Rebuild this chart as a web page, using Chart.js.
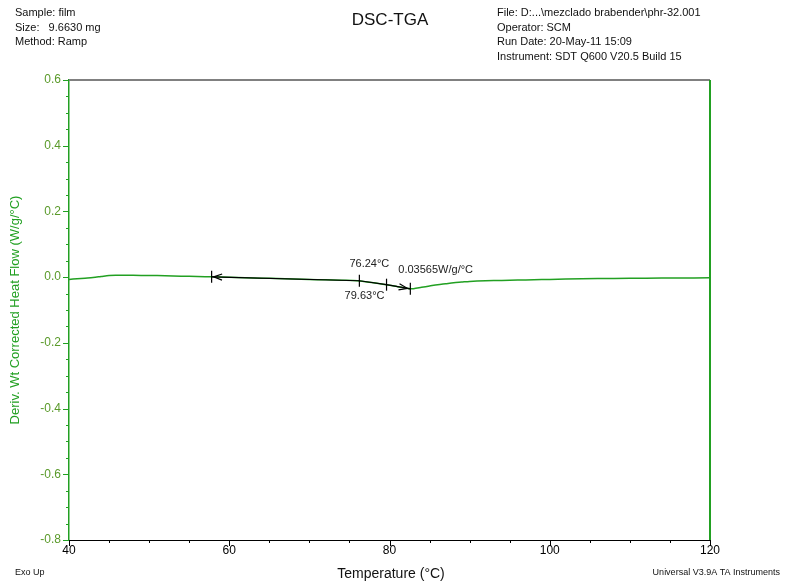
<!DOCTYPE html>
<html>
<head>
<meta charset="utf-8">
<script src="https://cdn.jsdelivr.net/npm/chart.js@4/dist/chart.umd.min.js"></script>
<style>
  html, body { margin: 0; padding: 0; background: #fff; }
  #wrap { width: 787px; height: 585px; position: relative; }
</style>
</head>
<body>
<div id="wrap"><canvas id="c" width="787" height="585"></canvas></div>
<script>
// Derivative weight-corrected heat flow vs temperature
const temperatures = [40, 41, 42, 43, 44, 45, 46, 48, 50, 52, 54, 56, 58, 60, 62, 64, 66, 68, 70, 72, 74, 76, 78, 79, 80, 81, 82, 82.6, 83, 84, 85, 86, 87, 88, 89, 90, 92, 94, 96, 98, 100, 104, 108, 112, 116, 120];
const heatFlow = [-0.007, -0.005, -0.003, -0.001, 0.002, 0.005, 0.0055, 0.0055, 0.005, 0.0045, 0.003, 0.002, 0.001, -0.0004, -0.0017, -0.003, -0.0043, -0.0056, -0.007, -0.0082, -0.0095, -0.011, -0.0172, -0.0207, -0.0245, -0.0289, -0.0331, -0.03565, -0.035, -0.031, -0.027, -0.023, -0.020, -0.017, -0.015, -0.013, -0.011, -0.010, -0.009, -0.008, -0.007, -0.005, -0.004, -0.003, -0.0025, -0.002];

// Glass transition analysis: onset, midpoint (half height), end and step height
const transitionTemps = [57.8, 76.24, 79.63, 82.6];
const transitionFlow = [0.001, -0.011, -0.023, -0.03565];
const transitionLabels = ['76.24°C', '79.63°C', '0.03565W/g/°C'];

const headerLeft = ['Sample: film', 'Size:   9.6630 mg', 'Method: Ramp'];
const headerRight = ['File: D:...\\mezclado brabender\\phr-32.001', 'Operator: SCM', 'Run Date: 20-May-11 15:09', 'Instrument: SDT Q600 V20.5 Build 15'];
const chartTitle = 'DSC-TGA';
const xTitle = 'Temperature (°C)';
const yTitle = 'Deriv. Wt Corrected Heat Flow (W/g/°C)';
const footLeft = 'Exo Up';
const footRight = 'Universal V3.9A TA Instruments';

const GREEN = '#22a022';
const FONT = '"Liberation Sans", Arial, sans-serif';

const points = temperatures.map((t, i) => ({ x: t, y: heatFlow[i] }));

const decorPlugin = {
  id: 'decor',
  afterDraw(chart) {
    const ctx = chart.ctx;
    const a = chart.chartArea;
    const xs = chart.scales.x, ys = chart.scales.y;
    ctx.save();

    // frame: top edge grey, right edge green
    ctx.lineWidth = 2;
    ctx.strokeStyle = '#808080';
    ctx.beginPath(); ctx.moveTo(a.left, a.top); ctx.lineTo(a.right, a.top); ctx.stroke();
    ctx.strokeStyle = GREEN;
    ctx.beginPath(); ctx.moveTo(a.right, a.top); ctx.lineTo(a.right, a.bottom); ctx.stroke();

    // axis ticks (major longer than minor)
    ctx.lineWidth = 1;
    ctx.strokeStyle = GREEN;
    ys.ticks.forEach(t => {
      const py = Math.round(ys.getPixelForValue(t.value)) + 0.5;
      const major = Math.abs(Math.round(t.value * 100)) % 20 === 0;
      ctx.beginPath(); ctx.moveTo(a.left - (major ? 6 : 3), py); ctx.lineTo(a.left, py); ctx.stroke();
    });
    ctx.strokeStyle = '#000';
    xs.ticks.forEach(t => {
      const px = Math.round(xs.getPixelForValue(t.value)) + 0.5;
      const major = Math.round(t.value) % 20 === 0;
      ctx.beginPath(); ctx.moveTo(px, a.bottom); ctx.lineTo(px, a.bottom + (major ? 6 : 3)); ctx.stroke();
    });

    // transition construction line
    const P = transitionTemps.map((t, i) => [xs.getPixelForValue(t), ys.getPixelForValue(transitionFlow[i])]);
    ctx.strokeStyle = '#000';
    ctx.lineWidth = 1.2;
    ctx.beginPath();
    P.forEach((p, i) => i ? ctx.lineTo(p[0], p[1]) : ctx.moveTo(p[0], p[1]));
    ctx.stroke();
    P.forEach(p => {
      ctx.beginPath(); ctx.moveTo(p[0], p[1] - 6); ctx.lineTo(p[0], p[1] + 6); ctx.stroke();
    });
    // arrowheads
    const arrow = (tip, from) => {
      const ang = Math.atan2(from[1] - tip[1], from[0] - tip[0]);
      ctx.beginPath();
      ctx.moveTo(tip[0] + 9 * Math.cos(ang - 0.35), tip[1] + 9 * Math.sin(ang - 0.35));
      ctx.lineTo(tip[0], tip[1]);
      ctx.lineTo(tip[0] + 9 * Math.cos(ang + 0.35), tip[1] + 9 * Math.sin(ang + 0.35));
      ctx.stroke();
    };
    const n = P.length;
    const lt = [P[0][0] + 2, P[0][1] + (P[1][1] - P[0][1]) * 2 / (P[1][0] - P[0][0])];
    arrow(lt, P[1]);
    const rt = [P[n - 1][0] - 3, P[n - 1][1] - (P[n - 1][1] - P[n - 2][1]) * 3 / (P[n - 1][0] - P[n - 2][0])];
    arrow(rt, P[n - 2]);

    ctx.fillStyle = '#222';
    ctx.font = '11px ' + FONT;
    ctx.textBaseline = 'middle';
    ctx.textAlign = 'center';
    ctx.fillText(transitionLabels[0], P[1][0] + 10, P[1][1] - 17);
    ctx.fillText(transitionLabels[1], P[2][0] - 22, P[2][1] + 11);
    ctx.textAlign = 'left';
    ctx.fillText(transitionLabels[2], P[3][0] - 12, P[3][1] - 19);

    // header
    ctx.fillStyle = '#111';
    ctx.font = '11px ' + FONT;
    headerLeft.forEach((s, i) => ctx.fillText(s, 15, 13 + i * 14.7));
    headerRight.forEach((s, i) => ctx.fillText(s, 497, 13 + i * 14.7));
    ctx.textAlign = 'center';
    ctx.font = '17px ' + FONT;
    ctx.fillText(chartTitle, 390, 20);

    // axis titles and footer
    ctx.font = '14px ' + FONT;
    ctx.fillText(xTitle, 391, 574);
    ctx.font = '9px ' + FONT;
    ctx.textAlign = 'left';
    ctx.fillText(footLeft, 15, 573);
    ctx.textAlign = 'right';
    ctx.fillText(footRight, 780, 573);

    ctx.save();
    ctx.translate(15, 310);
    ctx.rotate(-Math.PI / 2);
    ctx.textAlign = 'center';
    ctx.fillStyle = GREEN;
    ctx.font = '13px ' + FONT;
    ctx.fillText(yTitle, 0, 0);
    ctx.restore();

    ctx.restore();
  }
};

new Chart(document.getElementById('c'), {
  type: 'line',
  data: {
    datasets: [{
      data: points,
      borderColor: GREEN,
      borderWidth: 1.5,
      pointRadius: 0,
      tension: 0.3,
      fill: false
    }]
  },
  options: {
    responsive: false,
    animation: false,
    layout: { padding: { left: 0, top: 80, right: 77, bottom: 0 } },
    plugins: { legend: { display: false }, tooltip: { enabled: false } },
    scales: {
      x: {
        type: 'linear',
        min: 40, max: 120,
        afterFit: s => { s.height = 45; },
        grid: { display: true, drawOnChartArea: false, drawTicks: false },
        border: { display: true, color: '#000', width: 1 },
        ticks: {
          stepSize: 5,
          padding: 3,
          autoSkip: false,
          maxRotation: 0,
          color: '#000',
          font: { family: FONT, size: 12 },
          callback: v => (Math.round(v) % 20 === 0 ? String(Math.round(v)) : '')
        }
      },
      y: {
        min: -0.8, max: 0.6,
        afterFit: s => { s.width = 69; },
        grid: { display: true, drawOnChartArea: false, drawTicks: false },
        border: { display: true, color: GREEN, width: 1.5 },
        ticks: {
          stepSize: 0.05,
          padding: 8,
          autoSkip: false,
          color: '#5a9a2a',
          font: { family: FONT, size: 12 },
          callback: v => (Math.abs(Math.round(v * 100)) % 20 === 0 ? (Math.round(v * 10) / 10).toFixed(1) : '')
        }
      }
    }
  },
  plugins: [decorPlugin]
});
</script>
</body>
</html>
